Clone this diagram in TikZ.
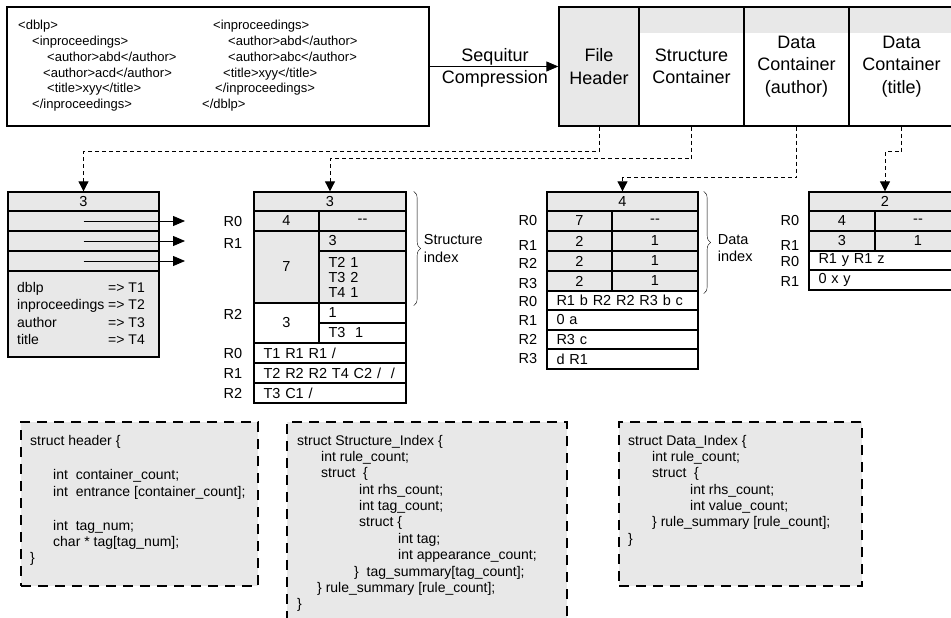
\documentclass[tikz,border=0pt]{standalone}
\usepackage{fontspec}
\setmainfont{Liberation Sans}
\usepackage{tikz}
\usetikzlibrary{calc,positioning,arrows.meta,decorations.pathreplacing}
\definecolor{cellgray}{RGB}{232,232,232}
\tikzset{
                    cell/.style={draw, line width=1.3pt, inner sep=0pt,
                                 font=\fontsize{14.5}{15}\selectfont},   % one table cell
                    lcell/.style={cell, align=left, inner xsep=9.5pt,
                                  text width=#1-19pt, minimum width=#1},  % cell with text at the left
                    txt/.style={inner sep=0pt, text height=10.4pt, text depth=0pt,
                                font=\fontsize{14.5}{15}\selectfont},    % row labels
                    hdtxt/.style={inner sep=0pt, text height=12.9pt, text depth=0pt,
                                  font=\fontsize{18}{22.5}\selectfont},
                    xmltxt/.style={anchor=west, inner sep=0pt, text height=9.3pt, text depth=0pt,
                                   font=\fontsize{13}{15}\selectfont},
                    codetxt/.style={anchor=west, inner sep=0pt, text height=10pt, text depth=0pt,
                                    font=\fontsize{14}{16}\selectfont},
                    codebox/.style={draw, fill=cellgray, line width=1.8pt,
                                    dash pattern=on 10pt off 7pt, inner sep=0pt},
                    link/.style={line width=0.8pt, dash pattern=on 4pt off 3pt,
                                 -{Triangle[length=10pt,width=10pt]}},    % dashed pointer
                    tip/.style={line width=0.8pt, -{Triangle[length=12pt,width=10pt]}}
}

\begin{document}
\begin{tikzpicture}[x=1pt,y=-1pt]
                \useasboundingbox (0,0) rectangle (951,618);
                \clip (0,0) rectangle (951,618);

                \node[draw, line width=1.3pt, minimum width=422, minimum height=119] (xml) at (218,66.5) {};
                \node[xmltxt] (xl1) at (18,25) {<dblp>};
                \node[xmltxt] (xl2) at (32,40.8) {<inproceedings>};
                \node[xmltxt] (xl3) at (47,56.6) {<author>abd</author>};
                \node[xmltxt] (xl4) at (43,72.4) {<author>acd</author>};
                \node[xmltxt] (xl5) at (47,88.2) {<title>xyy</title>};
                \node[xmltxt] (xl6) at (32,104) {</inproceedings>};
                \node[xmltxt] (xr1) at (213,25) {<inproceedings>};
                \node[xmltxt] (xr2) at (228,40.8) {<author>abd</author>};
                \node[xmltxt] (xr3) at (228,56.6) {<author>abc</author>};
                \node[xmltxt] (xr4) at (223,72.4) {<title>xyy</title>};
                \node[xmltxt] (xr5) at (215,88.2) {</inproceedings>};
                \node[xmltxt] (xr6) at (202,104) {</dblp>};

                \fill[cellgray] (639,7) rectangle (954,33);
                \node[cell, fill=cellgray, minimum width=80, minimum height=119, align=center,
                      font=\fontsize{18}{22.5}\selectfont] (fh) at (599,66.5) {File\\Header};
                \node[cell, minimum width=105, minimum height=119, align=center,
                      font=\fontsize{18}{22.5}\selectfont] (sc) at (691.5,66.5) {Structure\\Container};
                \node[cell, minimum width=105, minimum height=119, align=center,
                      font=\fontsize{18}{22.5}\selectfont] (dca) at (796.5,66.5) {Data\\Container\\(author)};
                \node[cell, minimum width=105, minimum height=119, align=center,
                      font=\fontsize{18}{22.5}\selectfont] (dct) at (901.5,66.5) {Data\\Container\\(title)};

                \node[hdtxt] (seq) at (495,55) {Sequitur};
                \node[hdtxt] (comp) at (495,77) {Compression};
                \draw[tip] (xml) -- (fh);

                % file header
                \node[cell, fill=cellgray, minimum width=151, minimum height=19] (hd0) at (83.5,201.5) {3};
                \node[cell, fill=cellgray, minimum width=151, minimum height=20] (hd1) at (83.5,221) {};
                \node[cell, fill=cellgray, minimum width=151, minimum height=20] (hd2) at (83.5,241) {};
                \node[cell, fill=cellgray, minimum width=151, minimum height=20] (hd3) at (83.5,261) {};
                \node[cell, fill=cellgray, minimum width=151, minimum height=86] (hdt) at (83.5,314) {};
                \node[txt, anchor=west, font=\fontsize{14}{15}\selectfont] (hk1) at (17,287) {dblp};
                \node[txt, anchor=west, font=\fontsize{14}{15}\selectfont] (hk2) at (17,304.5) {inproceedings};
                \node[txt, anchor=west, font=\fontsize{14}{15}\selectfont] (hk3) at (17,322) {author};
                \node[txt, anchor=west, font=\fontsize{14}{15}\selectfont] (hk4) at (17,339.5) {title};
                \node[txt, anchor=east, font=\fontsize{14}{15}\selectfont] (hv1) at (145,287) {=> T1};
                \node[txt, anchor=east, font=\fontsize{14}{15}\selectfont] (hv2) at (145,304.5) {=> T2};
                \node[txt, anchor=east, font=\fontsize{14}{15}\selectfont] (hv3) at (145,322) {=> T3};
                \node[txt, anchor=east, font=\fontsize{14}{15}\selectfont] (hv4) at (145,339.5) {=> T4};
                \coordinate (e1) at (185,221);
                \coordinate (e2) at (185,241);
                \coordinate (e3) at (185,261);
                \draw[tip] (hd1.center) -- (e1);
                \draw[tip] (hd2.center) -- (e2);
                \draw[tip] (hd3.center) -- (e3);

                % structure container
                \node[cell, fill=cellgray, minimum width=152, minimum height=19] (st0) at (330,201.5) {3};
                \node[cell, fill=cellgray, minimum width=65, minimum height=20] (stl0) at (286.5,221) {4};
                \node[cell, fill=cellgray, minimum width=87, minimum height=20] (str0) at (362.5,221) {-{}-};
                \node[cell, fill=cellgray, minimum width=65, minimum height=72] (stl1) at (286.5,267) {7};
                \node[lcell=87pt, fill=cellgray, minimum height=20] (str1) at (362.5,241) {3};
                \node[lcell=87pt, fill=cellgray, minimum height=52] (str1b) at (362.5,277) {T2 1\\T3 2\\T4 1};
                \node[cell, minimum width=65, minimum height=40] (stl2) at (286.5,323) {3};
                \node[lcell=87pt, minimum height=20] (str2) at (362.5,313) {1};
                \node[lcell=87pt, minimum height=20] (str2b) at (362.5,333) {T3\ \ 1};
                \node[lcell=152pt, minimum height=20] (stg0) at (330,353) {T1 R1 R1 /};
                \node[lcell=152pt, minimum height=20] (stg1) at (330,373) {T2 R2 R2 T4 C2 /\ \ /};
                \node[lcell=152pt, minimum height=20] (stg2) at (330,393) {T3 C1 /};
                \node[txt] (sr0) at (233,221) {R0};
                \node[txt] (sr1) at (233,243) {R1};
                \node[txt] (sr2) at (233,314) {R2};
                \node[txt] (sr3) at (233,353) {R0};
                \node[txt] (sr4) at (233,373) {R1};
                \node[txt] (sr5) at (233,393) {R2};
                \draw [decorate,decoration={brace,amplitude=7pt}] ($(st0.north east)+(7,0)$) -- ($(str1b.south east)+(7,2)$) node[midway,right,xshift=10pt,inner sep=0pt,align=left,font=\fontsize{14.5}{18}\selectfont] (sidx) {Structure\\index};

                % data container (author)
                \node[cell, fill=cellgray, minimum width=151, minimum height=19] (da0) at (622.5,201.5) {4};
                \node[cell, fill=cellgray, minimum width=65, minimum height=20] (dal0) at (579.5,221) {7};
                \node[cell, fill=cellgray, minimum width=86, minimum height=20] (dar0) at (655,221) {-{}-};
                \node[cell, fill=cellgray, minimum width=65, minimum height=20] (dal1) at (579.5,241) {2};
                \node[cell, fill=cellgray, minimum width=86, minimum height=20] (dar1) at (655,241) {1};
                \node[cell, fill=cellgray, minimum width=65, minimum height=20] (dal2) at (579.5,261) {2};
                \node[cell, fill=cellgray, minimum width=86, minimum height=20] (dar2) at (655,261) {1};
                \node[cell, fill=cellgray, minimum width=65, minimum height=20] (dal3) at (579.5,281) {2};
                \node[cell, fill=cellgray, minimum width=86, minimum height=20] (dar3) at (655,281) {1};
                \node[lcell=151pt, minimum height=19] (dag0) at (622.5,300.5) {R1 b R2 R2 R3 b c};
                \node[lcell=151pt, minimum height=20] (dag1) at (622.5,320) {0 a};
                \node[lcell=151pt, minimum height=19] (dag2) at (622.5,339.5) {R3 c};
                \node[lcell=151pt, minimum height=20] (dag3) at (622.5,359) {d R1};
                \node[txt] (dr0) at (528,220) {R0};
                \node[txt] (dr1) at (528,245) {R1};
                \node[txt] (dr2) at (528,263) {R2};
                \node[txt] (dr3) at (528,283) {R3};
                \node[txt] (dr4) at (528,301) {R0};
                \node[txt] (dr5) at (528,320) {R1};
                \node[txt] (dr6) at (528,339) {R2};
                \node[txt] (dr7) at (528,358) {R3};
                \draw [decorate,decoration={brace,amplitude=7pt}] ($(da0.north east)+(5,0)$) -- ($(dar3.south east)+(5,2)$) node[midway,right,xshift=14pt,yshift=-6pt,inner sep=0pt,align=left,font=\fontsize{14.5}{17}\selectfont] (didx) {Data\\index};

                % data container (title)
                \node[cell, fill=cellgray, minimum width=152, minimum height=19] (ti0) at (885,201.5) {2};
                \node[cell, fill=cellgray, minimum width=66, minimum height=20] (til0) at (842,221) {4};
                \node[cell, fill=cellgray, minimum width=86, minimum height=20] (tir0) at (918,221) {-{}-};
                \node[cell, fill=cellgray, minimum width=66, minimum height=20] (til1) at (842,241) {3};
                \node[cell, fill=cellgray, minimum width=86, minimum height=20] (tir1) at (918,241) {1};
                \node[lcell=152pt, minimum height=19] (tig0) at (885,260.5) {R1 y R1 z};
                \node[lcell=152pt, minimum height=20] (tig1) at (885,280) {0 x y};
                \node[txt] (tr0) at (790,220) {R0};
                \node[txt] (tr1) at (790,245) {R1};
                \node[txt] (tr2) at (790,261) {R0};
                \node[txt] (tr3) at (790,281) {R1};

                \draw[link] (fh.south) -- ++(0,25) -| (hd0.north);
                \draw[link] (sc.south) -- ++(0,32) -| (st0.north);
                \draw[link] (dca.south) -- ++(0,51) -| (da0.north);
                \draw[link] (dct.south) -- ++(0,25) -| (ti0.north);

                % struct definitions
                \node[codebox, minimum width=237, minimum height=164] (cb1) at (139.5,504) {};
                \node[codetxt] (ca1) at (30,440) {struct header \{};
                \node[codetxt] (ca2) at (53,474) {int\ \ container\_count;};
                \node[codetxt] (ca3) at (53,491) {int\ \ entrance [container\_count];};
                \node[codetxt] (ca4) at (53,525) {int\ \ tag\_num;};
                \node[codetxt] (ca5) at (53,541) {char * tag[tag\_num];};
                \node[codetxt] (ca6) at (30,557) {\}};

                \node[codebox, minimum width=280, minimum height=203] (cb2) at (427,523.5) {};
                \node[codetxt] (cs1) at (297,440) {struct Structure\_Index \{};
                \node[codetxt] (cs2) at (321,456) {int rule\_count;};
                \node[codetxt] (cs3) at (321,472) {struct\ \ \{};
                \node[codetxt] (cs4) at (359,489) {int rhs\_count;};
                \node[codetxt] (cs5) at (359,505) {int tag\_count;};
                \node[codetxt] (cs6) at (359,521) {struct \{};
                \node[codetxt] (cs7) at (398,538) {int tag;};
                \node[codetxt] (cs8) at (398,554) {int appearance\_count;};
                \node[codetxt] (cs9) at (354,571) {\}\ \ tag\_summary[tag\_count];};
                \node[codetxt] (cs10) at (317,587) {\} rule\_summary [rule\_count];};
                \node[codetxt] (cs11) at (297,603) {\}};

                \node[codebox, minimum width=243, minimum height=164] (cb3) at (740.5,504) {};
                \node[codetxt] (cd1) at (628,440) {struct Data\_Index \{};
                \node[codetxt] (cd2) at (652,456) {int rule\_count;};
                \node[codetxt] (cd3) at (652,472) {struct\ \ \{};
                \node[codetxt] (cd4) at (690,489) {int rhs\_count;};
                \node[codetxt] (cd5) at (690,505) {int value\_count;};
                \node[codetxt] (cd6) at (652,521) {\} rule\_summary [rule\_count];};
                \node[codetxt] (cd7) at (628,538) {\}};
\end{tikzpicture}
\end{document}
